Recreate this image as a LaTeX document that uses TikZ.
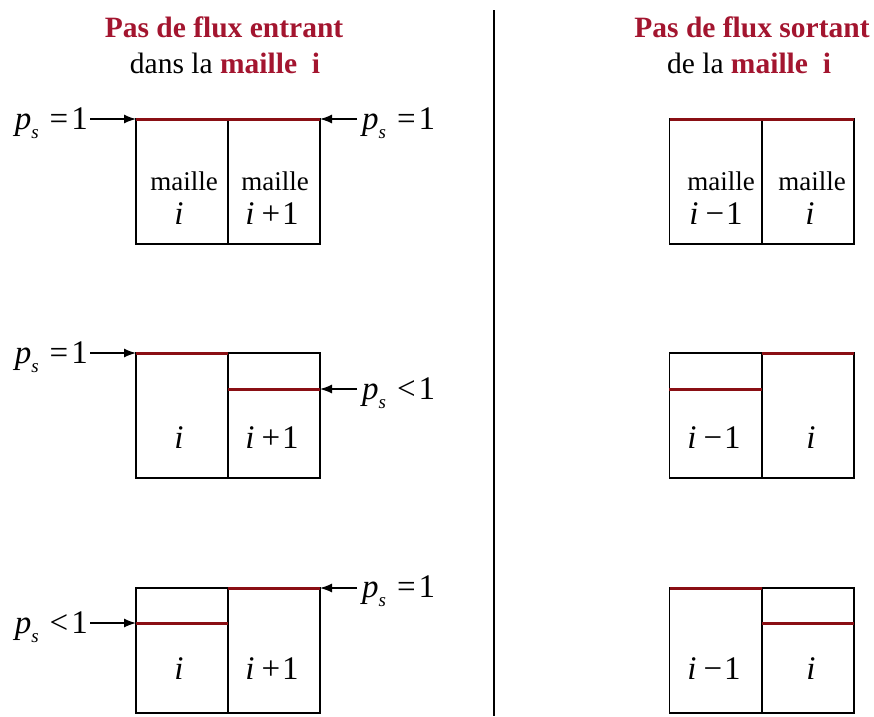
\documentclass[tikz,border=0pt]{standalone}
\usepackage{fontspec}
\setmainfont{Liberation Serif}
\usetikzlibrary{arrows.meta}
\definecolor{titlered}{HTML}{A3152F}
\definecolor{linered}{HTML}{8A0F14}
\newcommand\psl[1]{\textit{p}\raisebox{-0.3em}{\fontsize{19}{19}\selectfont\textit{s}}\hspace{11pt}#1\hspace{3pt}1}
\newcommand\ipl[1]{\textit{i}\hspace{7pt}#1\hspace{2pt}1}
\begin{document}
\begin{tikzpicture}[x=1pt,y=-1pt,
  cell/.style={draw,line width=1.7pt,minimum width=92pt,minimum height=125pt,inner sep=0pt,outer sep=0pt},
  redl/.style={draw=linered,line width=3pt},
  eqlbl/.style={font=\fontsize{33}{35}\selectfont,inner sep=0pt},
  mtxt/.style={font=\fontsize{27}{29}\selectfont,inner sep=0pt,anchor=base},
  itxt/.style={font=\fontsize{33}{35}\selectfont,inner sep=0pt,anchor=base},
  ttl/.style={font=\fontsize{29.5}{32}\selectfont,inner sep=0pt},
  arr/.style={-{Latex[length=12pt,width=9pt]},line width=1.3pt},
  sep/.style={line width=1.5pt}]
\useasboundingbox (0,0) rectangle (874,716);

% titles
\node[ttl,text=titlered] (t1) at (224,27) {\textbf{Pas de flux entrant}};
\node[ttl] (t2) at (225,63) {dans la \textbf{\color{titlered}maille\ \ i}};
\node[ttl,text=titlered] (t3) at (752,27) {\textbf{Pas de flux sortant}};
\node[ttl] (t4) at (749,63) {de la \textbf{\color{titlered}maille\ \ i}};

% divider
\coordinate (vtop) at (494,10);
\coordinate (vbot) at (494,716);
\draw[sep] (vtop) -- (vbot);

% ---------- left column ----------
% row 1
\node[cell] (L1a) at (182,181.5) {};
\node[cell] (L1b) at (274,181.5) {};
\draw[redl] (L1a.north west) -- (L1b.north east);
\node[mtxt] (L1am) at (184,190) {maille};
\node[itxt] (L1ai) at (179,224) {\textit{i}};
\node[itxt] (L1bi) at (272,224) {\ipl{+}};
\node[mtxt] (L1bm) at (275,190) {maille};
\node[eqlbl,anchor=base east] (L1l) at (88,129) {\psl{=}};
\node[eqlbl,anchor=base west] (L1r) at (362,129) {\psl{=}};
\coordinate (L1ls) at (90,119);
\coordinate (L1rs) at (357,119);
\draw[arr] (L1ls) -- (L1a.north west);
\draw[arr] (L1rs) -- (L1b.north east);

% row 2
\node[cell] (L2a) at (182,415.5) {};
\node[cell] (L2b) at (274,415.5) {};
\coordinate (L2bm) at (228,389);
\coordinate (L2be) at (320,389);
\draw[redl] (L2a.north west) -- (L2a.north east);
\draw[redl] (L2bm) -- (L2be);
\node[itxt] (L2ai) at (179,448) {\textit{i}};
\node[itxt] (L2bi) at (272,448) {\ipl{+}};
\node[eqlbl,anchor=base east] (L2l) at (88,363) {\psl{=}};
\node[eqlbl,anchor=base west] (L2r) at (362,399) {\psl{<}};
\coordinate (L2ls) at (90,353);
\coordinate (L2rs) at (357,389);
\draw[arr] (L2ls) -- (L2a.north west);
\draw[arr] (L2rs) -- (L2be);

% row 3
\node[cell] (L3a) at (182,650.5) {};
\node[cell] (L3b) at (274,650.5) {};
\coordinate (L3aw) at (136,623);
\coordinate (L3am) at (228,623);
\draw[redl] (L3aw) -- (L3am);
\draw[redl] (L3b.north west) -- (L3b.north east);
\node[itxt] (L3ai) at (179,679) {\textit{i}};
\node[itxt] (L3bi) at (272,679) {\ipl{+}};
\node[eqlbl,anchor=base east] (L3l) at (88,633) {\psl{<}};
\node[eqlbl,anchor=base west] (L3r) at (362,597) {\psl{=}};
\coordinate (L3ls) at (90,623);
\coordinate (L3rs) at (357,588);
\draw[arr] (L3ls) -- (L3aw);
\draw[arr] (L3rs) -- (L3b.north east);

% ---------- right column ----------
% row 1
\node[cell] (R1a) at (715.5,181.5) {};
\node[cell] (R1b) at (808,181.5) {};
\draw[redl] (R1a.north west) -- (R1b.north east);
\node[mtxt] (R1am) at (721,190) {maille};
\node[itxt] (R1ai) at (716,224) {\ipl{\char"2212}};
\node[mtxt] (R1bm) at (812,190) {maille};
\node[itxt] (R1bi) at (810,224) {\textit{i}};

% row 2
\node[cell] (R2a) at (715.5,415.5) {};
\node[cell] (R2b) at (808,415.5) {};
\coordinate (R2aw) at (669,389);
\coordinate (R2am) at (762,389);
\draw[redl] (R2aw) -- (R2am);
\draw[redl] (R2b.north west) -- (R2b.north east);
\node[itxt] (R2ai) at (714,448) {\ipl{\char"2212}};
\node[itxt] (R2bi) at (811,448) {\textit{i}};

% row 3
\node[cell] (R3a) at (715.5,650.5) {};
\node[cell] (R3b) at (808,650.5) {};
\coordinate (R3bm) at (762,623);
\coordinate (R3be) at (854,623);
\draw[redl] (R3a.north west) -- (R3a.north east);
\draw[redl] (R3bm) -- (R3be);
\node[itxt] (R3ai) at (714,679) {\ipl{\char"2212}};
\node[itxt] (R3bi) at (811,679) {\textit{i}};
\end{tikzpicture}
\end{document}
